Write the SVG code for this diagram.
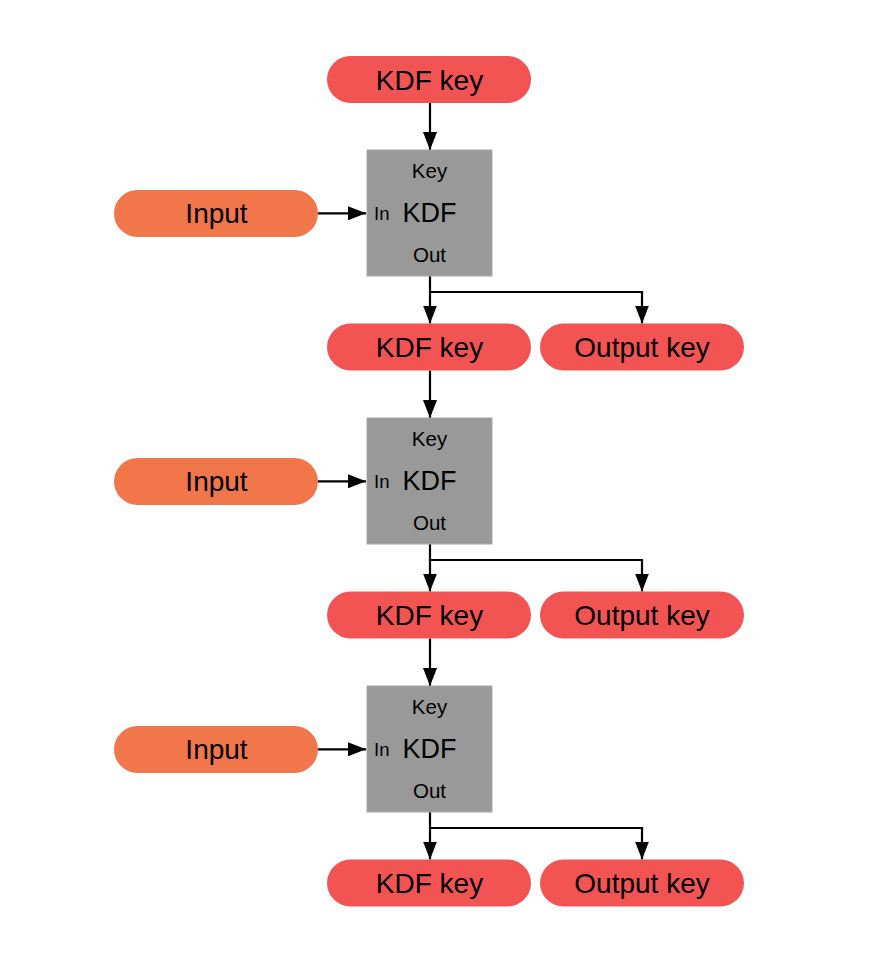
<svg xmlns="http://www.w3.org/2000/svg" width="878" height="970" viewBox="0 0 878 970">
<defs>
<marker id="ah" markerUnits="userSpaceOnUse" markerWidth="18" markerHeight="14" refX="18" refY="7" orient="auto">
<path d="M0,0 L18,7 L0,14 z" fill="#000"/>
</marker>
<style>
.key{fill:#F25454}
.inp{fill:#F1764A}
.box{fill:#999999;stroke:#a8a8a8;stroke-width:1}
text{font-family:"Liberation Sans",Arial,sans-serif;fill:#000}
.big{font-size:28px;text-anchor:middle}
.kdf{font-size:27px;text-anchor:middle}
.sm{font-size:20.5px;text-anchor:middle}
.in{font-size:18.5px}
.c{fill:none;stroke:#000;stroke-width:2.2}
</style>
</defs>
<rect width="878" height="970" fill="#fff"/>
<g id="connectors">
<line class="c" x1="430" y1="103" x2="430" y2="150" marker-end="url(#ah)"/>
<line class="c" x1="318" y1="213.3" x2="366" y2="213.3" marker-end="url(#ah)"/>
<line class="c" x1="430" y1="276" x2="430" y2="323.5" marker-end="url(#ah)"/>
<path class="c" d="M430,292 H642 V323.5" marker-end="url(#ah)"/>
<line class="c" x1="430" y1="370.5" x2="430" y2="418" marker-end="url(#ah)"/>
<line class="c" x1="318" y1="481.3" x2="366" y2="481.3" marker-end="url(#ah)"/>
<line class="c" x1="430" y1="544" x2="430" y2="591.5" marker-end="url(#ah)"/>
<path class="c" d="M430,560 H642 V591.5" marker-end="url(#ah)"/>
<line class="c" x1="430" y1="638.5" x2="430" y2="686" marker-end="url(#ah)"/>
<line class="c" x1="318" y1="749.3" x2="366" y2="749.3" marker-end="url(#ah)"/>
<line class="c" x1="430" y1="812" x2="430" y2="859.5" marker-end="url(#ah)"/>
<path class="c" d="M430,828 H642 V859.5" marker-end="url(#ah)"/>
</g>
<g id="kdfkey0"><rect class="key" x="327" y="56" width="204" height="47" rx="23.5"/><text class="big" x="429.5" y="89.5">KDF key</text></g>
<g id="input1"><rect class="inp" x="114" y="190" width="204" height="47" rx="23.5"/><text class="big" x="216.5" y="222.5">Input</text></g>
<g id="kdf1"><rect class="box" x="367" y="150" width="125" height="126"/><text class="sm" x="429.5" y="178">Key</text><text class="kdf" x="429.5" y="221.5">KDF</text><text class="in" x="374" y="220">In</text><text class="sm" x="429.5" y="262">Out</text></g>
<g id="kdfkey1"><rect class="key" x="327" y="323.5" width="204" height="47" rx="23.5"/><text class="big" x="429.5" y="357">KDF key</text></g>
<g id="outkey1"><rect class="key" x="540" y="323.5" width="204" height="47" rx="23.5"/><text class="big" x="642" y="357">Output key</text></g>
<g id="input2"><rect class="inp" x="114" y="458" width="204" height="47" rx="23.5"/><text class="big" x="216.5" y="490.5">Input</text></g>
<g id="kdf2"><rect class="box" x="367" y="418" width="125" height="126"/><text class="sm" x="429.5" y="446">Key</text><text class="kdf" x="429.5" y="489.5">KDF</text><text class="in" x="374" y="488">In</text><text class="sm" x="429.5" y="530">Out</text></g>
<g id="kdfkey2"><rect class="key" x="327" y="591.5" width="204" height="47" rx="23.5"/><text class="big" x="429.5" y="625">KDF key</text></g>
<g id="outkey2"><rect class="key" x="540" y="591.5" width="204" height="47" rx="23.5"/><text class="big" x="642" y="625">Output key</text></g>
<g id="input3"><rect class="inp" x="114" y="726" width="204" height="47" rx="23.5"/><text class="big" x="216.5" y="758.5">Input</text></g>
<g id="kdf3"><rect class="box" x="367" y="686" width="125" height="126"/><text class="sm" x="429.5" y="714">Key</text><text class="kdf" x="429.5" y="757.5">KDF</text><text class="in" x="374" y="756">In</text><text class="sm" x="429.5" y="798">Out</text></g>
<g id="kdfkey3"><rect class="key" x="327" y="859.5" width="204" height="47" rx="23.5"/><text class="big" x="429.5" y="893">KDF key</text></g>
<g id="outkey3"><rect class="key" x="540" y="859.5" width="204" height="47" rx="23.5"/><text class="big" x="642" y="893">Output key</text></g>
</svg>
